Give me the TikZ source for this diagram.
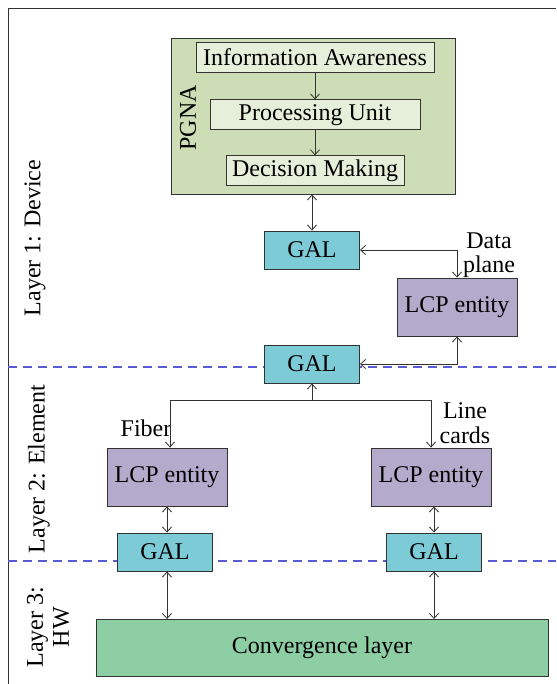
\documentclass[tikz,border=0pt]{standalone}
\usepackage{fontspec}
\setmainfont{Liberation Serif}
\usepackage{xcolor}
\usetikzlibrary{positioning,arrows.meta}

\definecolor{galcyan}{RGB}{126,203,216}
\definecolor{lcppurple}{RGB}{180,170,204}
\definecolor{convgreen}{RGB}{141,206,165}
\definecolor{pgnagreen}{RGB}{205,221,182}
\definecolor{subgreen}{RGB}{229,239,218}
\definecolor{sepblue}{RGB}{90,90,210}

\begin{document}
\begin{tikzpicture}[x=1pt, y=-1pt, font=\fontsize{24}{27}\selectfont, every node/.style={align=center},
  box/.style={draw=black!80, line width=0.9pt, inner sep=0pt},
  gal/.style={box, fill=galcyan, minimum width=95pt, minimum height=38pt},
  lcp/.style={box, fill=lcppurple, minimum width=120pt, minimum height=58pt},
  sub/.style={box, fill=subgreen, minimum height=30pt},
  arr/.style={{Straight Barb[length=5pt,width=9pt]}-{Straight Barb[length=5pt,width=9pt]}, line width=0.8pt, black!80},
  one/.style={-{Straight Barb[length=5pt,width=9pt]}, line width=0.8pt, black!80},
  layersep/.style={draw=sepblue, dash pattern=on 9pt off 6pt, line width=1.1pt}]
\useasboundingbox (0,0) rectangle (556,684);
% frame and layer borders
\draw[line width=0.8pt, black!80] (8,684) -- (8,8) -- (556,8);
\draw[layersep] (8,367) -- (556,367);
\draw[layersep] (8,561) -- (556,561);
\node[rotate=90] (lay1) at (35,238) {Layer 1: Device};
\node[rotate=90] (lay2) at (39,469) {Layer 2: Element};
\node[rotate=90] (lay3) at (48,627) {Layer 3:\\[-1pt]HW};
% PGNA
\node[box, fill=pgnagreen, minimum width=284pt, minimum height=156pt] (pgna) at (313,116) {};
\node[rotate=90] (pgnalbl) at (188,118) {PGNA};
\node[sub, minimum width=238pt] (info) at (315,57) {Information Awareness};
\node[sub, minimum width=210pt, below=27pt of info] (proc) {Processing Unit};
\node[sub, minimum width=178pt, below=25pt of proc] (dec) {Decision Making};
\draw[one] (info) -- (proc);
\draw[one] (proc) -- (dec);
% layer 1
\node[gal] (gal1) at (312,250) {GAL};
\node[gal] (gal2) at (312,364) {GAL};
\node[lcp] (lcp1) at (457,307) {LCP entity};
\node (dplane) at (489,255) {Data\\[-3pt]plane};
\draw[arr] (gal1.north |- pgna.south) -- (gal1.north);
\draw[arr] (gal1.east) -| (lcp1.north);
\draw[arr] (gal2.east) -| (lcp1.south);
% layer 2
\node[lcp] (lcp2) at (167,477) {LCP entity};
\node[lcp] (lcp3) at (431,477) {LCP entity};
\node (fiber) at (146,428) {Fiber};
\node (lcards) at (465,423) {Line\\[-2pt]cards};
\coordinate (split) at (312,400);
\draw[one] (split) -- (gal2.south);
\draw[one] (split) -| ([xshift=3pt]lcp2.north);
\draw[one] (split) -| (lcp3.north);
\node[gal] (gal3) at (165,552) {GAL};
\node[gal] (gal4) at (434,552) {GAL};
\draw[arr] (lcp2.south) -- (lcp2.south |- gal3.north);
\draw[arr] (gal4.north |- lcp3.south) -- (gal4.north);
% layer 3
\node[box, fill=convgreen, minimum width=452pt, minimum height=57pt] (conv) at (322,648) {Convergence layer};
\draw[arr] ([xshift=2pt]gal3.south) -- ([xshift=2pt]gal3.south |- conv.north);
\draw[arr] (gal4.south) -- (gal4.south |- conv.north);
\end{tikzpicture}
\end{document}
